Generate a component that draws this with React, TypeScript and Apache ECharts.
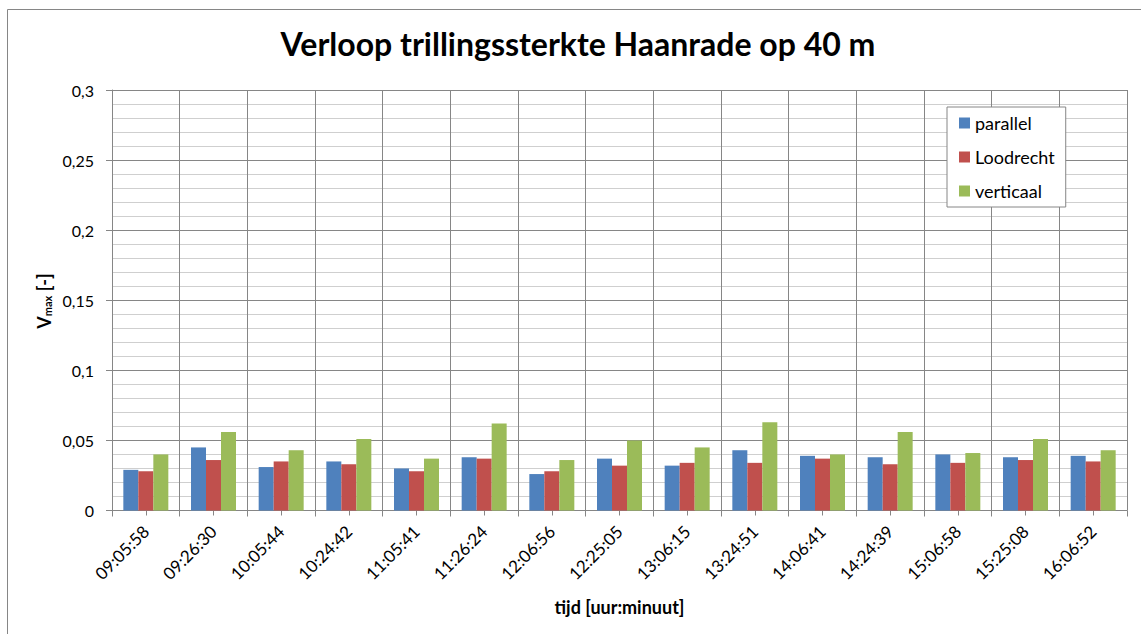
import React, { useEffect, useRef } from "react";
import * as echarts from "echarts";

const categories = [
  "09:05:58", "09:26:30", "10:05:44", "10:24:42", "11:05:41", "11:26:24", "12:06:56", "12:25:05",
  "13:06:15", "13:24:51", "14:06:41", "14:24:39", "15:06:58", "15:25:08", "16:06:52",
];
const parallel = [0.029, 0.045, 0.031, 0.035, 0.030, 0.038, 0.026, 0.037, 0.032, 0.043, 0.039, 0.038, 0.040, 0.038, 0.039];
const loodrecht = [0.028, 0.036, 0.035, 0.033, 0.028, 0.037, 0.028, 0.032, 0.034, 0.034, 0.037, 0.033, 0.034, 0.036, 0.035];
const verticaal = [0.040, 0.056, 0.043, 0.051, 0.037, 0.062, 0.036, 0.050, 0.045, 0.063, 0.040, 0.056, 0.041, 0.051, 0.043];

const FONT = "Lato";

export default function App() {
  const ref = useRef<HTMLDivElement>(null);
  useEffect(() => {
    if (!ref.current) return;
    const chart = echarts.init(ref.current, null, { renderer: "svg" });
    const bar = (name: string, data: number[], color: string) => ({
      name,
      type: "bar",
      data,
      xAxisIndex: 0,
      barWidth: 15,
      barGap: "0%",
      itemStyle: { color },
    });
    chart.setOption({
      animation: false,
      backgroundColor: "#ffffff",
      textStyle: { fontFamily: FONT },
      graphic: [
        {
          type: "rect",
          shape: { x: 7.5, y: 9.5, width: 1150, height: 640 },
          style: { fill: "none", stroke: "#868686", lineWidth: 1 },
          z: -1,
        },
        {
          type: "text",
          x: 43,
          y: 301,
          rotation: Math.PI / 2,
          style: {
            text: "{v|V}{s|max}{n| [-]}",
            align: "center",
            verticalAlign: "middle",
            fill: "#000",
            rich: {
              v: { fontFamily: FONT, fontSize: 18, fontWeight: "bold", fill: "#000", verticalAlign: "bottom", lineHeight: 20 },
              s: { fontFamily: FONT, fontSize: 11, fontWeight: "bold", fill: "#000", verticalAlign: "bottom", lineHeight: 14 },
              n: { fontFamily: FONT, fontSize: 18, fontWeight: "bold", fill: "#000", verticalAlign: "bottom", lineHeight: 20 },
            },
          },
        },
      ],
      title: {
        text: "Verloop trillingssterkte Haanrade op 40 m",
        left: 578,
        top: 27,
        padding: 0,
        textAlign: "center",
        textStyle: { fontFamily: FONT, fontSize: 32, fontWeight: "bold", color: "#000" },
      },
      legend: {
        orient: "vertical",
        left: 947,
        top: 107,
        data: ["parallel", "Loodrecht", "verticaal"],
        icon: "rect",
        itemWidth: 11,
        itemHeight: 11,
        itemGap: 16,
        padding: [7, 11, 7, 12],
        backgroundColor: "#ffffff",
        borderColor: "#868686",
        borderWidth: 1,
        textStyle: { fontFamily: FONT, fontSize: 18, lineHeight: 18, color: "#000" },
      },
      grid: { left: 112, top: 90, right: 14, bottom: 123.5, containLabel: false },
      xAxis: [
        {
          type: "category",
          data: categories,
          position: "bottom",
          name: "tijd [uur:minuut]",
          nameLocation: "middle",
          nameGap: 87,
          nameTextStyle: { fontFamily: FONT, fontSize: 18, fontWeight: "bold", color: "#000" },
          axisLine: { show: true, lineStyle: { color: "#868686", width: 1 } },
          axisTick: { show: true, alignWithLabel: false, length: 6, lineStyle: { color: "#868686" } },
          splitLine: { show: true, lineStyle: { color: "#868686", width: 1 } },
          axisLabel: { rotate: 45, fontFamily: FONT, fontSize: 17, color: "#000", margin: 18, interval: 0 },
        },
        {
          type: "category",
          data: categories,
          position: "bottom",
          axisLine: { show: false },
          axisTick: { show: true, alignWithLabel: true, length: 5, lineStyle: { color: "#868686" } },
          axisLabel: { show: false },
          splitLine: { show: false },
        },
      ],
      yAxis: {
        type: "value",
        min: 0,
        max: 0.3,
        interval: 0.05,
        axisLine: { show: true, lineStyle: { color: "#868686", width: 1 } },
        axisTick: { show: true, length: 6, lineStyle: { color: "#868686" } },
        axisLabel: {
          fontFamily: FONT,
          fontSize: 16,
          color: "#000",
          margin: 18,
          formatter: (v: number) => String(parseFloat(v.toFixed(2))).replace(".", ","),
        },
        splitLine: { show: true, lineStyle: { color: "#868686", width: 1 } },
        minorTick: { show: false, splitNumber: 5 },
        minorSplitLine: { show: true, lineStyle: { color: "#cfcfcf", width: 1 } },
      },
      series: [
        bar("parallel", parallel, "#4F81BD"),
        bar("Loodrecht", loodrecht, "#C0504D"),
        bar("verticaal", verticaal, "#9BBB59"),
      ],
    });
    return () => chart.dispose();
  }, []);
  return (
    <div
      ref={ref}
      style={{ position: "fixed", left: 0, top: 0, width: 1141, height: 634 }}
    />
  );
}
